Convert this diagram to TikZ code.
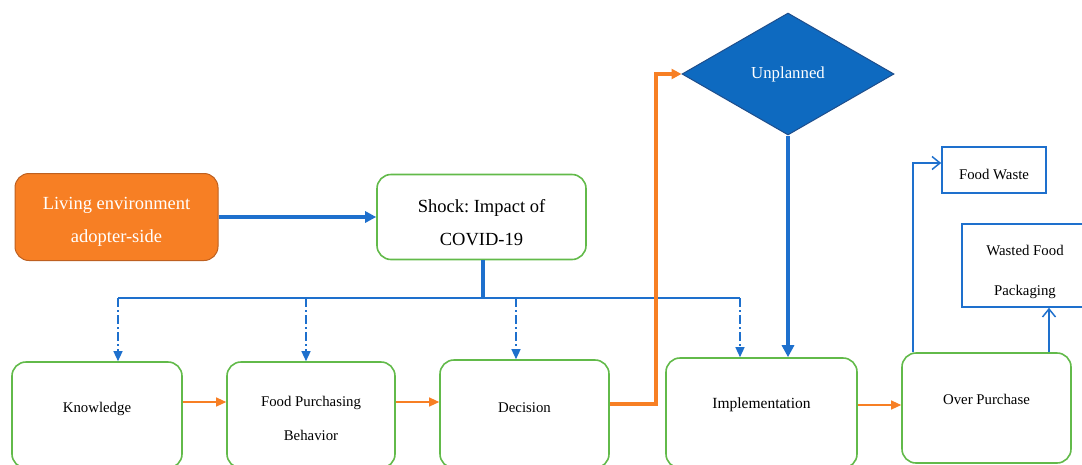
\documentclass[tikz,border=0pt]{standalone}
\usepackage{fontspec}
\setmainfont{Liberation Serif}
\usetikzlibrary{shapes.geometric,arrows.meta}
\definecolor{lorange}{RGB}{247,127,36}
\definecolor{dorange}{RGB}{190,96,32}
\definecolor{lgreen}{RGB}{98,186,74}
\definecolor{lblue}{RGB}{30,112,205}
\definecolor{dblue}{RGB}{14,106,192}
\definecolor{nblue}{RGB}{30,78,140}
\newcommand{\fs}[2]{\fontsize{#1}{#2}\selectfont}

\begin{document}
\begin{tikzpicture}[x=1pt,y=-1pt,
  gbox/.style={draw=lgreen,line width=1.6,rounded corners=14},
  txt/.style={align=center,font=\fs{14.8}{34}},
  big/.style={align=center,font=\fs{18.5}{33}},
  bbox/.style={draw=lblue,line width=1.6},
  btxt/.style={align=center,font=\fs{14.8}{40}},
  barr/.style={draw=lblue,line width=1.5,-{Straight Barb[length=8,width=13]}},
  oarr/.style={draw=lorange,line width=1.2,-{Triangle[length=10,width=9]}},
  dd/.style={draw=lblue,line width=1.3,dash pattern=on 9pt off 3pt on 2pt off 3pt,-{Triangle[length=10,width=9]}}]
  \useasboundingbox (0,0) rectangle (1082,464);
  % top row
  \node[draw=dorange,fill=lorange,rounded corners=14,line width=1,minimum width=203,minimum height=87,
    label={[big,text=white,yshift=-5pt]center:Living environment\\adopter-side}] (liv) at (116.5,217) {};
  \node[gbox,minimum width=209,minimum height=85,label={[big,yshift=-6pt]center:Shock:\ Impact of\\COVID-19}] (shock) at (481.5,217) {};
  \node[diamond,draw=nblue,fill=dblue,line width=1,inner sep=0,minimum width=212,minimum height=122,
    text=white,font=\fs{16.8}{20}] (unp) at (788,74) {Unplanned};
  \node[bbox,minimum width=104,minimum height=46,label={[btxt,yshift=-4pt]center:Food Waste}] (fw) at (994,170) {};
  \node[bbox,minimum width=126,minimum height=83,label={[btxt,yshift=-6pt]center:Wasted Food\\Packaging}] (wfp) at (1025,265.5) {};
  % bottom row
  \node[gbox,minimum width=170,minimum height=106,label={[txt,yshift=6pt]center:Knowledge}] (kn) at (97,415) {};
  \node[gbox,minimum width=168,minimum height=106,label={[txt,yshift=-3pt]center:Food Purchasing\\Behavior}] (fpb) at (311,415) {};
  \node[gbox,minimum width=169,minimum height=108,label={[txt,yshift=6pt]center:Decision}] (dec) at (524.5,414) {};
  \node[gbox,minimum width=191,minimum height=110,label={[txt,font=\fs{15.5}{34},yshift=8pt]center:Implementation}] (imp) at (761.5,413) {};
  \node[gbox,minimum width=169,minimum height=110,label={[txt,yshift=9pt]center:Over Purchase}] (op) at (986.5,408) {};

  \coordinate (b1) at (118,298);
  \coordinate (b2) at (306,298);
  \coordinate (b3) at (516,298);
  \coordinate (b4) at (740,298);
  \coordinate (turn) at (656,0);
  \coordinate (fwx) at (913,0);
  \coordinate (wpx) at (1049,0);

  \draw[lblue,line width=3.5,-{Triangle[length=11,width=11]}] (liv.east) -- (shock.west);
  \draw[lblue,line width=3.5] (shock.south -| 483,0) -- (b1 -| 483,0);
  \draw[lblue,line width=1.5] (b1) -- (b4);
  \foreach \b/\n in {b1/kn,b2/fpb,b3/dec,b4/imp}
    \draw[dd] (\b) -- (\b |- \n.north);
  \draw[oarr] ([yshift=13pt]kn.east) -- ([yshift=13pt]fpb.west);
  \draw[oarr] ([yshift=13pt]fpb.east) -- ([yshift=12pt]dec.west);
  \draw[oarr] ([yshift=8pt]imp.east) -- ([yshift=3pt]op.west);
  \draw[lorange,line width=4,-{Triangle[length=10,width=10]}] ([yshift=10pt]dec.east) -| (turn |- unp.west) -- (unp.west);
  \draw[lblue,line width=4,-{Triangle[length=12,width=12]}] (unp.south) -- (unp.south |- imp.north);
  \draw[barr] (op.north -| fwx) |- ([yshift=7pt]fw.west);
  \draw[barr] (op.north -| wpx) -- (wfp.south -| wpx);
\end{tikzpicture}
\end{document}
